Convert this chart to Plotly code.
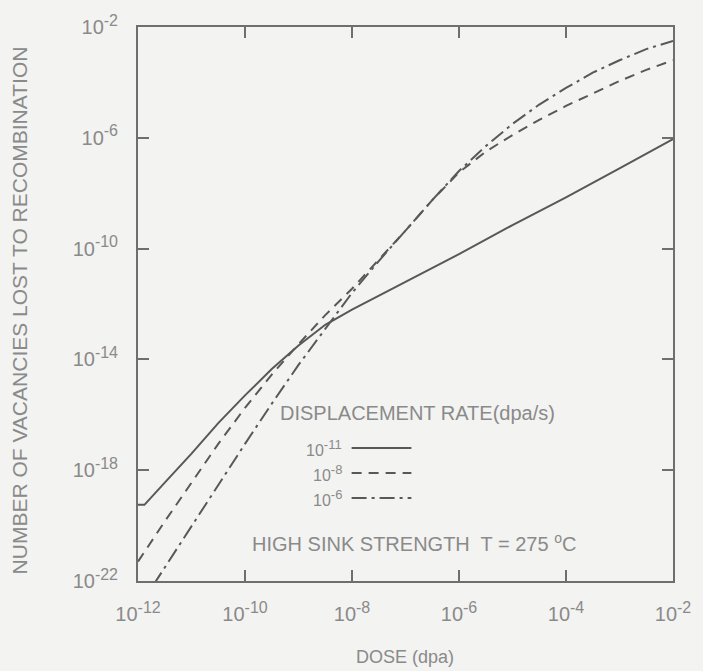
import numpy as np
import plotly.graph_objects as go

# Dose grid (log10 dpa) and log10 of vacancies lost to recombination
log_dose = [-12.0, -11.5, -11.0, -10.5, -10.0, -9.5, -9.0, -8.5, -8.0, -7.5, -7.0,
            -6.5, -6.0, -5.5, -5.0, -4.5, -4.0, -3.5, -3.0, -2.5, -2.0]

# displacement rate 1e-11 dpa/s (starts with a short flat step)
log_dose_r11 = [-12.0, -11.88, -11.5, -11.0, -10.5, -10.0, -9.5, -9.0, -8.5, -8.0,
                -7.0, -6.0, -5.0, -4.0, -3.0, -2.0]
log_rec_r11 = [-19.25, -19.25, -18.45, -17.4, -16.3, -15.3, -14.35, -13.5, -12.75, -12.2,
               -11.2, -10.2, -9.15, -8.15, -7.1, -6.05]

# displacement rate 1e-8 dpa/s
log_rec_r8 = [-21.3, -19.85, -18.45, -17.05, -15.75, -14.55, -13.45, -12.4, -11.45, -10.4,
              -9.35, -8.25, -7.25, -6.5, -5.9, -5.35, -4.85, -4.4, -3.95, -3.55, -3.2]

# displacement rate 1e-6 dpa/s
log_rec_r6 = [-23.0, -21.5, -20.0, -18.5, -17.05, -15.6, -14.2, -12.9, -11.6, -10.45,
              -9.35, -8.25, -7.2, -6.3, -5.5, -4.8, -4.2, -3.65, -3.2, -2.8, -2.5]

x_exponents = ["-12", "-10", "-8", "-6", "-4", "-2"]
y_exponents = ["-22", "-18", "-14", "-10", "-6", "-2"]
rate_exponents = ["-11", "-8", "-6"]


def pow10(exp, sup_px):
    return "10<sup><span style='font-size:%dpx'>%s</span></sup>" % (sup_px, exp)


x_ticks = [10.0 ** int(e) for e in x_exponents]
x_ticktext = [pow10(e, 16) for e in x_exponents]
y_ticks = [10.0 ** int(e) for e in y_exponents]
y_ticktext = [pow10(e, 16) for e in y_exponents]
rate_labels = [pow10(e, 13) for e in rate_exponents]

LINE = "#585858"
TEXT = "#8a8a8a"
FRAME = "#6e6e6e"
BG = "#f3f3f1"
FONT = "Liberation Sans"

dash_styles = ["solid", "10px,7px", "15px,5px,3px,5px"]

fig = go.Figure()
series = [
    (log_dose_r11, log_rec_r11),
    (log_dose, log_rec_r8),
    (log_dose, log_rec_r6),
]
for (lx, ly), dash in zip(series, dash_styles):
    fig.add_trace(go.Scatter(
        x=10.0 ** np.array(lx), y=10.0 ** np.array(ly),
        mode="lines", line=dict(color=LINE, width=2, dash=dash),
        showlegend=False, hoverinfo="skip"))

W, H = 703, 671
ML, MR, MT, MB = 138, 19, 27, 90
PW, PH = W - ML - MR, H - MT - MB


def px(xp):
    return (xp - ML) / PW


def py(yp):
    return (H - MB - yp) / PH


anns = []
for text, xp, yp, size in [
    ("DISPLACEMENT RATE(dpa/s)", 423, 413, 20),
    ("HIGH SINK STRENGTH  T = 275 <sup>o</sup>C", 420, 542, 20),
    ("DOSE (dpa)", 410, 657, 18),
]:
    anns.append(dict(xref="paper", yref="paper", showarrow=False, text=text,
                     x=px(xp), y=py(yp), xanchor="center", yanchor="middle",
                     font=dict(family=FONT, size=size, color=TEXT)))

anns.append(dict(xref="paper", yref="paper", showarrow=False,
                 text="NUMBER OF VACANCIES LOST TO RECOMBINATION",
                 textangle=-90, x=px(18), y=py(310),
                 xanchor="center", yanchor="middle",
                 font=dict(family=FONT, size=21, color=TEXT)))

# key: rate label to the left of a short line sample
shapes = []
key_rows = [448, 473, 498]
for label, dash, yrow in zip(rate_labels, dash_styles, key_rows):
    anns.append(dict(xref="paper", yref="paper", showarrow=False, text=label,
                     x=px(348), y=py(yrow), xanchor="right", yanchor="middle",
                     font=dict(family=FONT, size=16, color=TEXT)))
    shapes.append(dict(type="line", xref="paper", yref="paper",
                       x0=px(356), x1=px(417), y0=py(yrow), y1=py(yrow),
                       line=dict(color=LINE, width=2, dash=dash)))

axis_common = dict(
    type="log", showgrid=False, zeroline=False,
    showline=True, linecolor=FRAME, linewidth=2, mirror="allticks",
    ticks="inside", ticklen=11, tickwidth=1.5, tickcolor=FRAME,
    tickfont=dict(family=FONT, size=20, color=TEXT),
)

fig.update_layout(
    width=W, height=H,
    margin=dict(l=ML, r=MR, t=MT, b=MB),
    paper_bgcolor=BG, plot_bgcolor=BG,
    xaxis=dict(range=[-12, -2], tickvals=x_ticks, ticktext=x_ticktext,
               ticklabelstandoff=14, **axis_common),
    yaxis=dict(range=[-22, -2], tickvals=y_ticks, ticktext=y_ticktext,
               ticklabelstandoff=14, **axis_common),
    annotations=anns, shapes=shapes,
)

fig.write_html("out.html")
